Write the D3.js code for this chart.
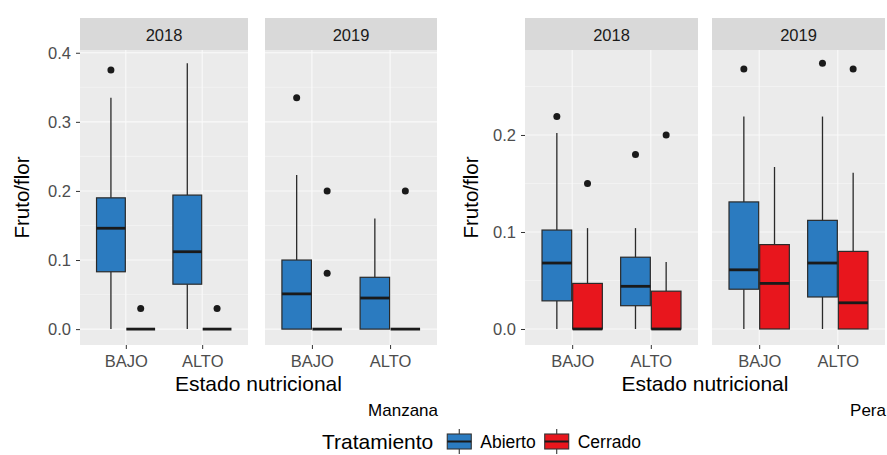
<!DOCTYPE html>
<html><head><meta charset="utf-8">
<script src="https://cdn.jsdelivr.net/npm/d3@7"></script>
<style>body{margin:0;background:#fff} svg{display:block;font-family:"Liberation Sans",Arial,sans-serif}</style>
</head><body><svg id="c" width="887" height="455"></svg>
<script>
// ---------- data ----------
const years = ["2018", "2019"];
const estados = ["BAJO", "ALTO"];
const tratamientos = ["Abierto", "Cerrado"];
const frutas = ["Manzana", "Pera"];
// box stats [min, q1, median, q3, max]; order: year > estado > tratamiento
const manzanaStats = [
  [0, 0.083, 0.146, 0.190, 0.335],
  [0, 0, 0, 0, 0],
  [0, 0.065, 0.112, 0.194, 0.385],
  [0, 0, 0, 0, 0],
  [0, 0, 0.051, 0.100, 0.223],
  [0, 0, 0, 0, 0],
  [0, 0, 0.045, 0.075, 0.160],
  [0, 0, 0, 0, 0]
];
const manzanaOutliers = [[0.375], [0.03], [], [0.03], [0.335], [0.2, 0.081], [], [0.2]];
const peraStats = [
  [0, 0.029, 0.068, 0.102, 0.202],
  [0, 0, 0, 0.047, 0.104],
  [0, 0.024, 0.044, 0.074, 0.104],
  [0, 0, 0, 0.039, 0.069],
  [0, 0.041, 0.061, 0.131, 0.219],
  [0, 0, 0.047, 0.087, 0.167],
  [0, 0.033, 0.068, 0.112, 0.219],
  [0, 0, 0.027, 0.080, 0.161]
];
const peraOutliers = [[0.219], [0.15], [0.18], [0.2], [0.268], [], [0.274], [0.268]];
const manzanaTicks = [0, 0.1, 0.2, 0.3, 0.4];
const peraTicks = [0, 0.1, 0.2];

// ---------- style ----------
const fillColors = ["#2B7BC0", "#E8161D"];
const svg = d3.select("#c");
const color = d3.scaleOrdinal().domain(tratamientos).range(fillColors);
const PT = 50, PB = 345, ST = 18;
const FONT = "Liberation Sans, Arial, sans-serif";

function drawPlot(cfg) {
  const y = d3.scaleLinear().domain(cfg.yDomain).range([PB, PT]);
  const minor = [];
  cfg.ticks.forEach((t, i) => {
    const m = t + (i < cfg.ticks.length - 1 ? (cfg.ticks[i + 1] - t) / 2 : (t - cfg.ticks[i - 1]) / 2);
    if (m <= cfg.yDomain[1]) minor.push(m);
  });
  cfg.panels.forEach((px, yi) => {
    const g = svg.append("g");
    g.append("rect").attr("x", px[0]).attr("y", ST).attr("width", px[1] - px[0]).attr("height", PT - ST).attr("fill", "#D9D9D9");
    g.append("text").attr("x", (px[0] + px[1]) / 2).attr("y", (ST + PT) / 2 + 1).attr("text-anchor", "middle")
      .attr("dominant-baseline", "central").attr("font-size", 16.5).attr("fill", "#1A1A1A").text(years[yi]);
    g.append("rect").attr("x", px[0]).attr("y", PT).attr("width", px[1] - px[0]).attr("height", PB - PT).attr("fill", "#EBEBEB");
    const x = d3.scalePoint().domain(estados).range(px).padding(0.6);
    const step = x.step();
    const dx = d3.scaleBand().domain(tratamientos).range([-0.39 * step, 0.39 * step]);
    // grid
    g.selectAll(".mn").data(minor).join("line").attr("x1", px[0]).attr("x2", px[1])
      .attr("y1", d => y(d)).attr("y2", d => y(d)).attr("stroke", "#F7F7F7").attr("stroke-width", 0.6);
    g.selectAll(".mj").data(cfg.ticks).join("line").attr("x1", px[0]).attr("x2", px[1])
      .attr("y1", d => y(d)).attr("y2", d => y(d)).attr("stroke", "#FAFAFA").attr("stroke-width", 1.1);
    g.selectAll(".vx").data(estados).join("line").attr("x1", d => x(d)).attr("x2", d => x(d))
      .attr("y1", PT).attr("y2", PB).attr("stroke", "#FAFAFA").attr("stroke-width", 1.1);
    // boxes
    estados.forEach((e, ei) => {
      tratamientos.forEach((t, ti) => {
        const idx = yi * 4 + ei * 2 + ti;
        const s = cfg.stats[idx];
        const cx = x(e) + dx(t) + dx.bandwidth() / 2;
        const hw = dx.bandwidth() / 2 - 0.5;
        g.append("line").attr("x1", cx).attr("x2", cx).attr("y1", y(s[0])).attr("y2", y(s[1])).attr("stroke", "#2A2A2A").attr("stroke-width", 1.3);
        g.append("line").attr("x1", cx).attr("x2", cx).attr("y1", y(s[3])).attr("y2", y(s[4])).attr("stroke", "#2A2A2A").attr("stroke-width", 1.3);
        g.append("rect").attr("x", cx - hw).attr("width", 2 * hw).attr("y", y(s[3])).attr("height", y(s[1]) - y(s[3]))
          .attr("fill", color(t)).attr("stroke", "#2A2A2A").attr("stroke-width", 1.2);
        g.append("line").attr("x1", cx - hw).attr("x2", cx + hw).attr("y1", y(s[2])).attr("y2", y(s[2])).attr("stroke", "#1A1A1A").attr("stroke-width", 2.8);
        g.selectAll(null).data(cfg.outliers[idx]).join("circle").attr("cx", cx).attr("cy", d => y(d)).attr("r", 3.5).attr("fill", "#1A1A1A");
      });
    });
    // x axis
    const ax = g.append("g").attr("transform", `translate(0,${PB})`).call(d3.axisBottom(x).tickSize(4).tickPadding(6));
    ax.select(".domain").remove();
    ax.selectAll("line").attr("stroke", "#333");
    ax.selectAll("text").attr("font-size", 16.5).attr("fill", "#4D4D4D").attr("font-family", FONT);
    if (yi === 0) {
      const ay = g.append("g").attr("transform", `translate(${px[0]},0)`).call(d3.axisLeft(y).tickValues(cfg.ticks).tickFormat(d3.format(".1f")).tickSize(4).tickPadding(5));
      ay.select(".domain").remove();
      ay.selectAll("line").attr("stroke", "#333");
      ay.selectAll("text").attr("font-size", 16.5).attr("fill", "#4D4D4D").attr("font-family", FONT);
    }
  });
  const p0 = cfg.panels[0][0], p1 = cfg.panels[1][1];
  svg.append("text").attr("transform", `translate(${cfg.yTitleX},${(PT + PB) / 2}) rotate(-90)`).attr("text-anchor", "middle")
    .attr("dominant-baseline", "central").attr("font-size", 20.5).attr("fill", "#000").text("Fruto/flor");
  svg.append("text").attr("x", (p0 + p1) / 2).attr("y", 391).attr("text-anchor", "middle").attr("font-size", 21).attr("fill", "#000").text("Estado nutricional");
  svg.append("text").attr("x", p1 + 1).attr("y", 416).attr("text-anchor", "end").attr("font-size", 17).attr("fill", "#000").text(cfg.caption);
}

drawPlot({ stats: manzanaStats, outliers: manzanaOutliers, ticks: manzanaTicks, yDomain: [-0.023, 0.404],
  panels: [[80, 248], [265, 437]], caption: frutas[0], yTitleX: 21 });
drawPlot({ stats: peraStats, outliers: peraOutliers, ticks: peraTicks, yDomain: [-0.0165, 0.2876],
  panels: [[525, 698], [712, 885]], caption: frutas[1], yTitleX: 470 });

// legend
const lg = svg.append("g");
let lx = 322;
const lt = lg.append("text").attr("x", lx).attr("y", 449).attr("font-size", 21).attr("fill", "#000").text("Tratamiento");
lx += lt.node().getComputedTextLength() + 13;
tratamientos.forEach((t, i) => {
  const kx = lx, kw = 26;
  lg.append("line").attr("x1", kx + kw / 2).attr("x2", kx + kw / 2).attr("y1", 429).attr("y2", 454).attr("stroke", "#333").attr("stroke-width", 1.1);
  lg.append("rect").attr("x", kx + 1).attr("y", 434).attr("width", kw - 2).attr("height", 15).attr("fill", color(t)).attr("stroke", "#333").attr("stroke-width", 1.1);
  lg.append("line").attr("x1", kx + 1).attr("x2", kx + kw - 1).attr("y1", 441.5).attr("y2", 441.5).attr("stroke", "#1A1A1A").attr("stroke-width", 2);
  const tx = lg.append("text").attr("x", kx + kw + 8).attr("y", 448).attr("font-size", 17.5).attr("fill", "#000").text(t);
  lx = kx + kw + 8 + tx.node().getComputedTextLength() + 8;
});
</script></body></html>
